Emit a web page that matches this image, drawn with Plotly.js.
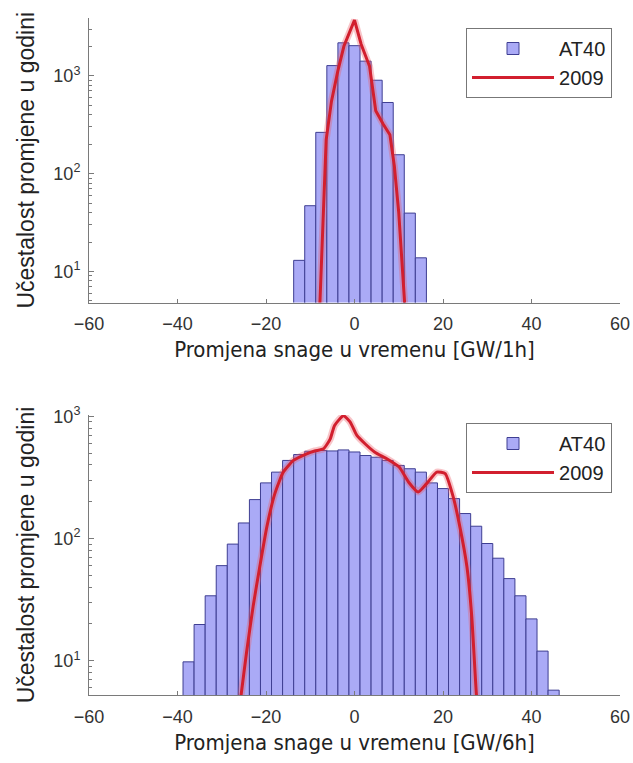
<!DOCTYPE html>
<html>
<head>
<meta charset="utf-8">
<script src="https://cdn.plot.ly/plotly-3.0.1.min.js"></script>
<style>html,body{margin:0;padding:0;background:#fff;}#chart{width:633px;height:763px;}</style>
</head>
<body>
<div id="chart"></div>
<script>
// ---- data: 1 h changes ----
const binCenters1h = [-12.5, -10, -7.5, -5, -2.5, 0, 2.5, 5, 7.5, 10, 12.5, 15];
const at40_1h = [13, 47, 264, 1270, 2170, 2030, 1410, 900, 533, 156, 39.5, 13.8];
const line2009_1h_x = [-8.3, -7.8, -6.4, -5.2, -3.8, -2.4, 0, 1.5, 3.4, 4.8, 6.5, 8.0, 9.0, 10.0, 11.3, 11.8];
const line2009_1h_y = [2, 5, 222, 550, 1100, 2000, 3700, 2100, 1250, 440, 320, 250, 120, 40, 5, 2];

// ---- data: 6 h changes ----
const binCenters6h = [-37.5, -35, -32.5, -30, -27.5, -25, -22.5, -20, -17.5, -15, -12.5, -10, -7.5, -5, -2.5,
  0, 2.5, 5, 7.5, 10, 12.5, 15, 17.5, 20, 22.5, 25, 27.5, 30, 32.5, 35, 37.5, 40, 42.5, 45];
const at40_6h = [9.8, 19.8, 34, 60, 90, 134, 208, 285, 349, 435, 486, 517, 524, 520, 530,
  510, 477, 462, 435, 396, 372, 349, 285, 256, 212, 160, 126, 91, 69, 47, 34, 22, 12, 5.75];
const line2009_6h_x = [-26.5, -25.7, -24.4, -22.9, -21.4, -19.8, -18.0, -16.1, -13.8, -10.8, -9, -7.0, -5.5, -4.5, -2.5,
  -1, 0.5, 2.5, 4.6, 7.3, 10.1, 12.2, 14.4, 16.3, 18.6, 20.5, 22.3, 23.8, 25.4, 26.5, 27.6, 28.3];
const line2009_6h_y = [3, 5, 11.7, 28, 59, 125, 233, 349, 435, 493, 520, 541, 650, 840, 1010,
  900, 700, 590, 508, 449, 384, 290, 240, 281, 349, 339, 219, 125, 59, 23, 5, 3];

// ---- tick labels / titles ----
const xTickVals = [-60, -40, -20, 0, 20, 40, 60];
const yTickVals = [10, 100, 1000];
const yTickText = ['10<sup>1</sup>', '10<sup>2</sup>', '10<sup>3</sup>'];
const yMinorTickVals = [2, 3, 4, 5, 6, 7, 8, 9, 20, 30, 40, 50, 60, 70, 80, 90,
  200, 300, 400, 500, 600, 700, 800, 900, 2000, 3000];
const seriesNames = ['AT40', '2009'];
const xTitle1 = 'Promjena snage u vremenu [GW/1h]';
const xTitle2 = 'Promjena snage u vremenu [GW/6h]';
const yTitle = 'Učestalost promjene u godini';

const barColor = '#aaaaf6';
const barEdge = '#3e3e92';
const lineColor = '#d21f2e';
const glowColor = 'rgba(235,90,100,0.35)';
const axisColor = '#7a7a7a';
const tickFont = {family: 'Liberation Sans, Arial, sans-serif', size: 18, color: '#333'};
const xTitleFont = {family: 'DejaVu Sans Condensed, DejaVu Sans, sans-serif', size: 22, color: '#222'};
const yTitleFont = {family: 'Liberation Sans, Arial, sans-serif', size: 23, color: '#222'};

function barTrace(x, y, xa, ya, lg) {
  return {type: 'bar', x: x, y: y, name: seriesNames[0], xaxis: xa, yaxis: ya, legend: lg,
    marker: {color: barColor, line: {color: barEdge, width: 1}}};
}
function glowTrace(x, y, xa, ya, shape) {
  return {type: 'scatter', mode: 'lines', x: x, y: y, xaxis: xa, yaxis: ya, showlegend: false, hoverinfo: 'skip',
    line: {color: glowColor, width: 7, shape: shape, smoothing: 0.5}};
}
function lineTrace(x, y, xa, ya, lg, shape) {
  return {type: 'scatter', mode: 'lines', x: x, y: y, name: seriesNames[1], xaxis: xa, yaxis: ya, legend: lg,
    line: {color: lineColor, width: 3, shape: shape, smoothing: 0.5}};
}

const traces = [
  barTrace(binCenters1h, at40_1h, 'x', 'y', 'legend'),
  glowTrace(line2009_1h_x, line2009_1h_y, 'x', 'y', 'linear'),
  lineTrace(line2009_1h_x, line2009_1h_y, 'x', 'y', 'legend', 'linear'),
  barTrace(binCenters6h, at40_6h, 'x2', 'y2', 'legend2'),
  glowTrace(line2009_6h_x, line2009_6h_y, 'x2', 'y2', 'spline'),
  lineTrace(line2009_6h_x, line2009_6h_y, 'x2', 'y2', 'legend2', 'spline')
];

function xAxis(anchor, title) {
  return {
    domain: [0, 1], anchor: anchor, range: [-60, 60], tickvals: xTickVals, ticks: 'inside', ticklen: 4,
    tickcolor: axisColor, showline: true, linecolor: axisColor, linewidth: 1, zeroline: false, showgrid: false,
    tickfont: tickFont, ticklabelstandoff: 5, title: {text: title, font: xTitleFont, standoff: 8}
  };
}
function yAxis(anchor, domain, range) {
  return {
    domain: domain, anchor: anchor, type: 'log', range: range, tickvals: yTickVals, ticktext: yTickText,
    ticks: 'inside', ticklen: 5, tickcolor: axisColor, showline: true, linecolor: axisColor, linewidth: 1,
    zeroline: false, showgrid: false, tickfont: tickFont, ticklabelstandoff: 4,
    minor: {tickvals: yMinorTickVals, ticks: 'inside', ticklen: 2.5, tickcolor: axisColor, showgrid: false},
    title: {text: yTitle, font: yTitleFont, standoff: 12}
  };
}
const legendStyle = (y) => ({
  x: 0.71, y: y, xanchor: 'left', yanchor: 'top', bgcolor: '#fff', bordercolor: '#777', borderwidth: 1,
  font: {family: 'Liberation Sans, Arial, sans-serif', size: 20, color: '#222'}, itemwidth: 82, tracegroupgap: 0
});

const layout = {
  width: 633, height: 763, margin: {l: 89, r: 13, t: 0, b: 0},
  paper_bgcolor: '#fff', plot_bgcolor: '#fff', bargap: 0, showlegend: true,
  xaxis: xAxis('y', xTitle1),
  yaxis: yAxis('x', [0.6035, 0.9764], [0.683, 3.59]),
  xaxis2: xAxis('y2', xTitle2),
  yaxis2: yAxis('x2', [0.0891, 0.4561], [0.72, 3.01]),
  legend: legendStyle(0.9633),
  legend2: legendStyle(0.4456)
};

Plotly.newPlot('chart', traces, layout, {staticPlot: true, displayModeBar: false});
</script>
</body>
</html>
